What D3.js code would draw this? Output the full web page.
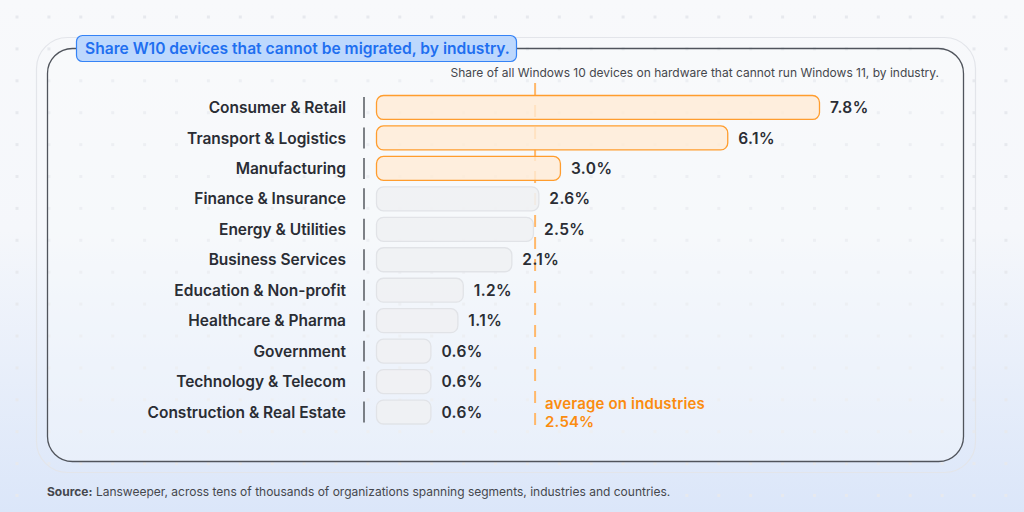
<!DOCTYPE html>
<html><head><meta charset="utf-8">
<script src="https://cdn.jsdelivr.net/npm/d3@7"></script>
<style>
html,body{margin:0;padding:0;background:#f8f9fb;}
svg{display:block;font-family:Inter,"Noto Sans",sans-serif;}
</style></head>
<body>
<svg id="chart" width="1024" height="512"></svg>
<script>
const categories = ["Consumer & Retail","Transport & Logistics","Manufacturing","Finance & Insurance","Energy & Utilities","Business Services","Education & Non-profit","Healthcare & Pharma","Government","Technology & Telecom","Construction & Real Estate"];
const values = [7.8, 6.1, 3.0, 2.6, 2.5, 2.1, 1.2, 1.1, 0.6, 0.6, 0.6];
const highlighted = [true, true, true, false, false, false, false, false, false, false, false];
const averageValue = 2.54;
const titleText = "Share W10 devices that cannot be migrated, by industry.";
const subtitleText = "Share of all Windows 10 devices on hardware that cannot run Windows 11, by industry.";
const averageLabel = ["average on industries", "2.54%"];
const sourceBold = "Source:";
const sourceText = " Lansweeper, across tens of thousands of organizations spanning segments, industries and countries.";

const svg = d3.select("#chart");
const W = 1024, H = 512;
const defs = svg.append("defs");
const grad = defs.append("linearGradient").attr("id","bg").attr("x1",0).attr("y1",0).attr("x2",0).attr("y2",1);
grad.append("stop").attr("offset","0%").attr("stop-color","#f8f9fb");
grad.append("stop").attr("offset","45%").attr("stop-color","#f5f7fb");
grad.append("stop").attr("offset","100%").attr("stop-color","#dbe6f9");
svg.append("rect").attr("width",W).attr("height",H).attr("fill","url(#bg)");

// dot grid
const dotsX = d3.range(17, W, 31.9), dotsY = d3.range(17, H, 31.9);
const dg = svg.append("g");
dotsY.forEach(y => dotsX.forEach(x => {
  dg.append("rect").attr("x", x-1.5).attr("y", y-1.5).attr("width",3).attr("height",3).attr("fill","#e7e9ee");
}));

// outer and inner panels
svg.append("rect").attr("x",36.5).attr("y",37.5).attr("width",939).attr("height",435).attr("rx",31)
  .attr("fill","none").attr("stroke","#e3e5ea").attr("stroke-width",1.2);
svg.append("rect").attr("x",47.5).attr("y",48.5).attr("width",916).attr("height",413).attr("rx",25)
  .attr("fill","rgba(250,251,253,0.35)").attr("stroke","#50545c").attr("stroke-width",1.3);

// title
svg.append("rect").attr("x",76.5).attr("y",35.5).attr("width",440).attr("height",26).attr("rx",6)
  .attr("fill","#bdd8fd").attr("stroke","#3583f6").attr("stroke-width",1.2);
svg.append("text").attr("x",85).attr("y",54).attr("fill","#1f6ff0").attr("font-size",15.6).attr("font-weight",600)
  .text(titleText);

svg.append("text").attr("x",939).attr("y",77).attr("text-anchor","end").attr("fill","#45474d").attr("font-size",12)
  .text(subtitleText);

// scales
const x0 = 376;
const x = d3.scaleLinear().domain([0, d3.max(values)]).range([x0+22, x0+443]);
const y = d3.scaleBand().domain(categories).range([92.26, 92.26+335]).paddingInner(0.18).paddingOuter(0.09);

// average line
const avgX = x(averageValue);
svg.append("line").attr("x1",avgX).attr("x2",avgX).attr("y1",83).attr("y2",428)
  .attr("stroke","#ffb86a").attr("stroke-width",2).attr("stroke-dasharray","12,10");

const rows = svg.append("g").selectAll("g").data(categories).join("g");
rows.append("text").attr("x",346).attr("y",d=>y(d)+y.bandwidth()/2).attr("dy","0.36em")
  .attr("text-anchor","end").attr("font-size",15.5).attr("font-weight",600).attr("fill","#2a2d34").text(d=>d);
rows.append("line").attr("x1",364).attr("x2",364).attr("y1",d=>y(d)+2).attr("y2",d=>y(d)+y.bandwidth()-2)
  .attr("stroke","#55585f").attr("stroke-width",1.5);
rows.append("rect").attr("x",x0+0.5).attr("y",d=>y(d)+0.5)
  .attr("width",(d,i)=>x(values[i])-x0).attr("height",y.bandwidth()-1).attr("rx",7)
  .attr("fill",(d,i)=>highlighted[i] ? "rgba(255,236,214,0.82)" : "rgba(240,241,243,0.9)")
  .attr("stroke",(d,i)=>highlighted[i] ? "#ff9d2e" : "#e1e3e7").attr("stroke-width",1.3);
rows.append("text").attr("x",(d,i)=>x(values[i])+11).attr("y",d=>y(d)+y.bandwidth()/2).attr("dy","0.36em")
  .attr("font-size",15.5).attr("font-weight",600).attr("letter-spacing",0.4).attr("fill","#2a2d34").text((d,i)=>values[i].toFixed(1)+"%");

// average label (two separate lines)
svg.append("g").selectAll("text").data(averageLabel).join("text")
  .attr("x",avgX+10).attr("y",(d,i)=>409 + i*18)
  .attr("font-size",15).attr("font-weight",600).attr("letter-spacing",0.15).attr("fill","#fb8c0f")
  .text(d=>d);

// source
const src = svg.append("text").attr("x",47).attr("y",496).attr("font-size",12).attr("fill","#45474d");
src.append("tspan").attr("font-weight",700).text(sourceBold);
src.append("tspan").text(sourceText);
</script>
</body></html>
